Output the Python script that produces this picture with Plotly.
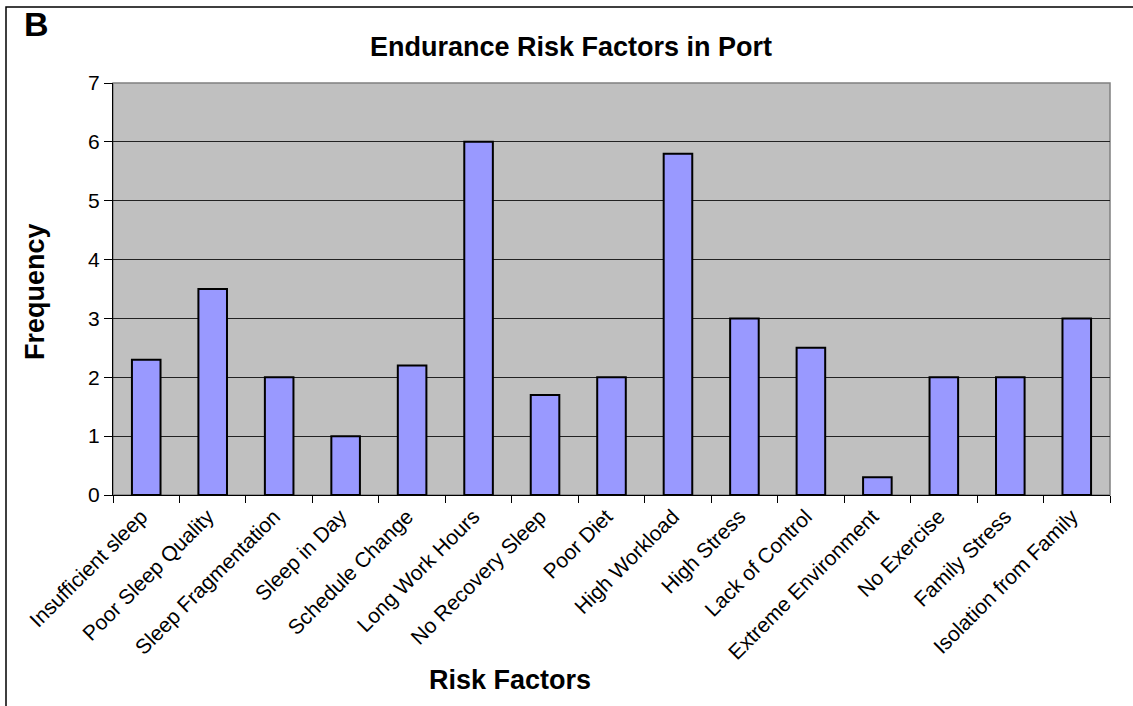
import plotly.graph_objects as go

categories = ["Insufficient sleep", "Poor Sleep Quality", "Sleep Fragmentation", "Sleep in Day",
              "Schedule Change", "Long Work Hours", "No Recovery Sleep", "Poor Diet",
              "High Workload", "High Stress", "Lack of Control", "Extreme Environment",
              "No Exercise", "Family Stress", "Isolation from Family"]
values = [2.3, 3.5, 2.0, 1.0, 2.2, 6.0, 1.7, 2.0, 5.8, 3.0, 2.5, 0.3, 2.0, 2.0, 3.0]
y_ticks = [0, 1, 2, 3, 4, 5, 6, 7]

W, H = 1133, 706
L, R, T, B = 113, 23, 83, 211
pw, ph = W - L - R, H - T - B

def px_x(p):
    return (p - L) / pw

def px_y(p):
    return (H - B - p) / ph

FONT = "Arial, Liberation Sans, sans-serif"

fig = go.Figure()
fig.add_trace(go.Bar(
    x=categories, y=values,
    marker=dict(color="#9999FF", line=dict(color="black", width=2)),
    width=0.43,
))

fig.update_layout(
    width=W, height=H,
    margin=dict(l=L, r=R, t=T, b=B, autoexpand=False),
    paper_bgcolor="white",
    plot_bgcolor="#C0C0C0",
    showlegend=False,
    font=dict(family=FONT, color="black"),
    title=dict(text="<b>Endurance Risk Factors in Port</b>", x=571 / W, xanchor="center",
               y=1 - 47 / H, yanchor="middle", font=dict(size=27, family=FONT)),
)
fig.update_xaxes(
    tickangle=-45, tickfont=dict(size=21), ticks="outside", ticklen=7, tickcolor="black",
    tickson="boundaries", showline=True, linecolor="black", linewidth=1, showgrid=False,
    range=[-0.5, len(categories) - 0.5], ticklabelshift=-5,
)
fig.update_yaxes(
    range=[0, 7], tickvals=y_ticks, tickfont=dict(size=21), ticks="outside", ticklen=8,
    tickcolor="black", showline=True, linecolor="black", linewidth=1,
    showgrid=True, gridcolor="#222222", gridwidth=1, zeroline=False,
)

# plot-area border (grey) on top and right
fig.add_shape(type="rect", xref="paper", yref="paper", x0=0, x1=1, y0=0, y1=1,
              line=dict(color="#808080", width=1.5), layer="below")
# outer chart frame
fig.add_shape(type="rect", xref="paper", yref="paper",
              x0=px_x(6), x1=px_x(1145), y0=px_y(720), y1=px_y(7),
              line=dict(color="black", width=1.5))

fig.add_annotation(text="<b>B</b>", xref="paper", yref="paper", x=px_x(22), y=px_y(24),
                   xanchor="left", yanchor="middle", showarrow=False,
                   font=dict(size=34, family=FONT))
fig.add_annotation(text="<b>Frequency</b>", xref="paper", yref="paper", x=px_x(35), y=px_y(292),
                   xanchor="center", yanchor="middle", textangle=-90, showarrow=False,
                   font=dict(size=27, family=FONT))
fig.add_annotation(text="<b>Risk Factors</b>", xref="paper", yref="paper", x=px_x(510), y=px_y(680),
                   xanchor="center", yanchor="middle", showarrow=False,
                   font=dict(size=27, family=FONT))

fig.write_html("out.html", config={"displayModeBar": False},
               post_script="document.body.style.margin='0';document.body.style.overflow='hidden';")
